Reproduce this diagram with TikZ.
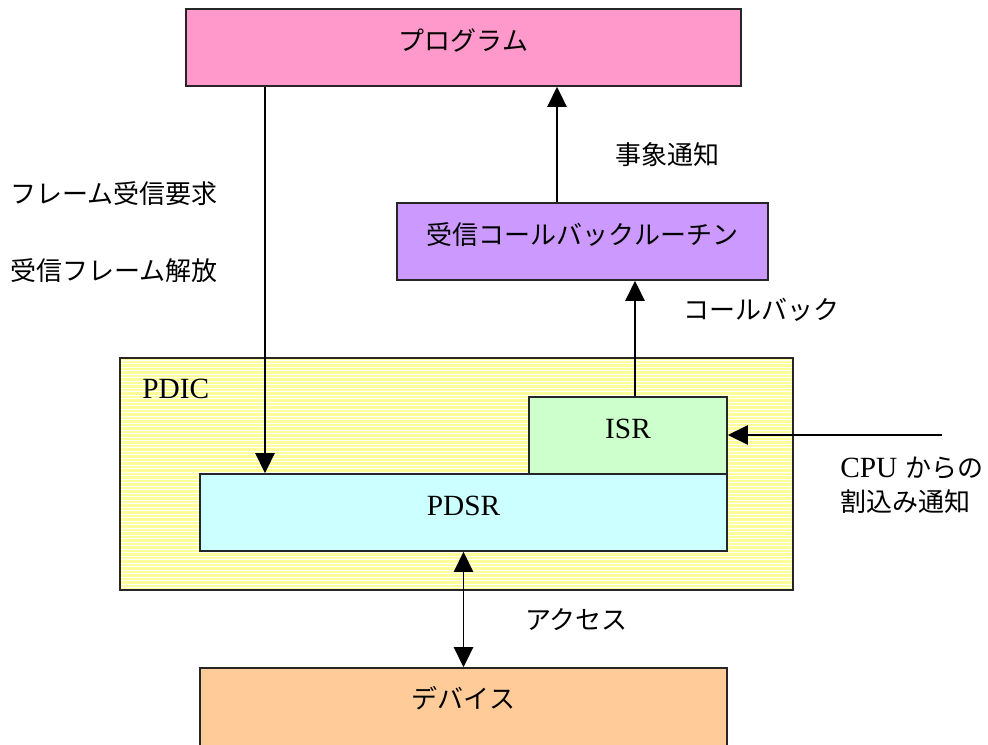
\documentclass[tikz,border=0pt]{standalone}
\usepackage{fontspec}
\setmainfont{Liberation Serif}
\newfontfamily\jp{Noto Sans CJK JP}
\usetikzlibrary{arrows.meta}
\definecolor{cprog}{HTML}{FF99CC}
\definecolor{ccb}{HTML}{CC99FF}
\definecolor{cisr}{HTML}{CCFFCC}
\definecolor{cpdsr}{HTML}{CCFFFF}
\definecolor{cdev}{HTML}{FFCC99}
\definecolor{cpdic}{HTML}{FFFF99}
\begin{document}
\begin{tikzpicture}[x=0.75pt,y=-0.75pt,
  box/.style={draw=black!85, line width=1.3pt, rectangle, inner sep=0pt,
    text height=15pt, text depth=10pt, font=\fontsize{22}{26}\selectfont},
  jpt/.style={font=\jp\fontsize{19.5}{29}\selectfont},
  lab/.style={inner sep=0pt, anchor=west, font=\jp\fontsize{19.5}{29}\selectfont},
  arr/.style={line width=1.3pt, -{Triangle[length=15pt,width=14.5pt]}},
  darr/.style={line width=1.3pt, {Triangle[length=15pt,width=14.5pt]}-{Triangle[length=15pt,width=14.5pt]}}]
\useasboundingbox (0,0) rectangle (988,745);
\begin{scope}
\clip (0,0) rectangle (988,745);
% PDIC
\fill[cpdic] (120,358) rectangle (793,590);
\foreach \yy in {360,363.5,...,588} \draw[white, line width=0.5pt] (121,\yy) -- (792,\yy);
\node[draw=black!85, line width=1.3pt, rectangle, minimum width=504.75pt, minimum height=174pt, inner sep=0pt] (pdic) at (456.5,474) {};
\node[inner sep=0pt, anchor=west, font=\fontsize{22}{26}\selectfont] (pdiclab) at (142,389) {PDIC};
% boxes
\node[box, fill=cprog, minimum width=416.25pt, minimum height=57.75pt, jpt] (prog) at (463.5,47.5) {プログラム};
\node[box, fill=ccb, minimum width=278.25pt, minimum height=57.75pt, jpt] (cb) at (582.5,241.5) {受信コールバックルーチン};
\node[box, fill=cisr, minimum width=148.5pt, minimum height=57.75pt] (isr) at (628,435.5) {ISR};
\node[box, fill=cpdsr, minimum width=395.25pt, minimum height=57.75pt] (pdsr) at (463.5,512.5) {PDSR};
\node[box, fill=cdev, minimum width=395.25pt, minimum height=78pt, jpt, text depth=33pt] (dev) at (463.5,720) {デバイス};
\end{scope}
% connectors
\coordinate (c1) at (265,0);
\coordinate (c2) at (557,0);
\coordinate (c3) at (635,0);
\coordinate (c4) at (463.5,0);
\coordinate (cpu) at (942,435);
\draw[arr] (c1 |- prog.south) -- (c1 |- pdsr.north);
\draw[arr] (c2 |- cb.north) -- (c2 |- prog.south);
\draw[arr] (c3 |- isr.north) -- (c3 |- cb.south);
\draw[arr] (cpu) -- (cpu -| isr.east);
\draw[darr] (c4 |- pdsr.south) -- (c4 |- dev.north);
% labels
\node[lab] (l1) at (615,155) {事象通知};
\node[lab] (l2) at (10,194) {フレーム受信要求};
\node[lab] (l3) at (10,271) {受信フレーム解放};
\node[lab] (l4) at (683,310) {コールバック};
\node[lab] (l5) at (525,620) {アクセス};
\node[inner sep=0pt, anchor=west, align=left] (l6) at (840,485.5) {{\fontsize{22}{26}\selectfont CPU}\hspace{6pt}{\jp\fontsize{19.5}{29}\selectfont からの}\\[7pt]{\jp\fontsize{19.5}{29}\selectfont 割込み通知}};
\end{tikzpicture}
\end{document}
